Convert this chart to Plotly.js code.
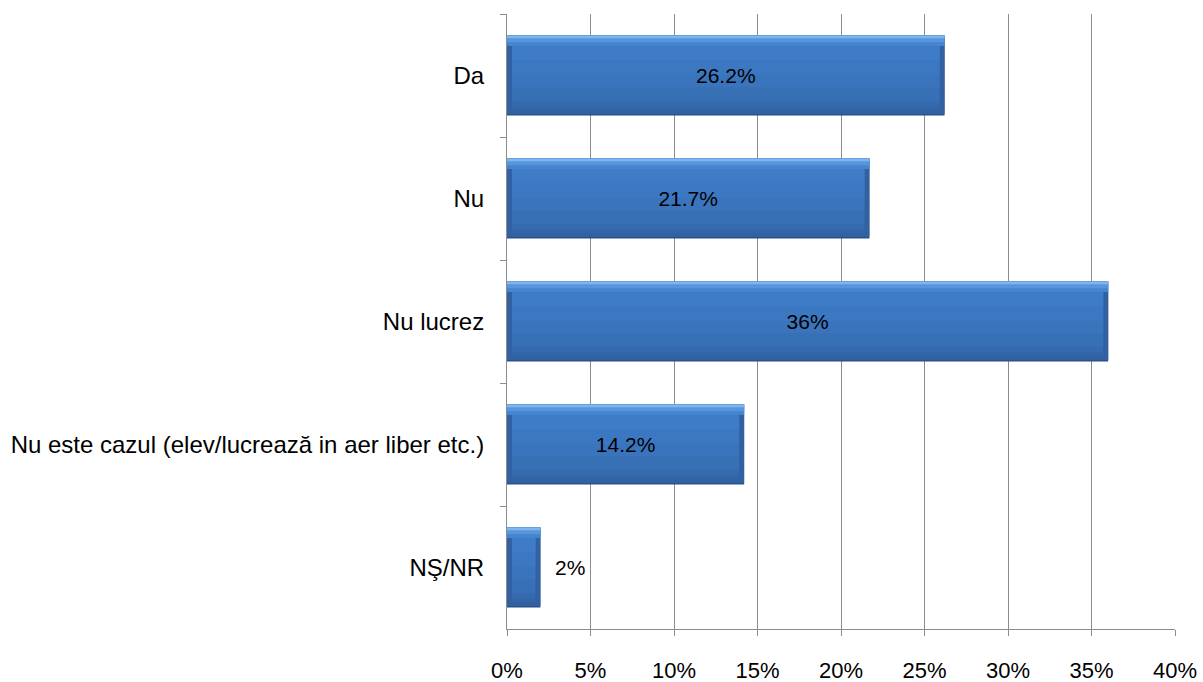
<!DOCTYPE html>
<html><head><meta charset="utf-8">
<script src="https://cdn.plot.ly/plotly-3.0.1.min.js"></script>
<style>body{margin:0;background:#fff}#c{width:1203px;height:682px}</style>
</head><body><div id="c"></div>
<script>
const categories = ["Da", "Nu", "Nu lucrez", "Nu este cazul (elev/lucrează in aer liber etc.)", "NŞ/NR"];
const values = [26.2, 21.7, 36, 14.2, 2];
const xTicks = [0, 5, 10, 15, 20, 25, 30, 35, 40];

const labels = values.map(v => v < 5 ? "\u00a0\u00a0" + v + "%" : v + "%");
const positions = values.map(v => v < 5 ? "outside" : "inside");
const inset = 0.3;
const innerLen = values.map(v => Math.max(v - 2 * inset, 0));

const W = 0.65, TOP = -0.325;
function layer(color, off, w, inner) {
  return {type: "bar", orientation: "h", y: categories,
    x: inner ? innerLen : values, base: inner ? inset : 0,
    width: w, offset: off, marker: {color: color, line: {width: 0}}, hoverinfo: "skip"};
}
const traces = [
  layer("#2b5189", TOP, W, false),
  layer("#3161a1", TOP, W - 0.012, false),
  layer("#3364a7", TOP, W - 0.04, true),
  layer("#356aae", TOP, W - 0.07, true),
  layer("#3870b6", TOP, W - 0.12, true),
  layer("#3a74bc", TOP, 0.42, true),
  layer("#3c78c2", TOP, 0.32, true),
  layer("#3e7cc8", TOP, 0.2, true),
  layer("#4584cf", TOP, 0.085, false),
  layer("#5796dc", TOP, 0.055, false),
  layer("#80b6ec", TOP, 0.022, false),
  {type: "bar", orientation: "h", y: categories, x: values, width: W, offset: TOP,
   marker: {color: "rgba(0,0,0,0)", line: {width: 0}},
   text: labels, textposition: positions, insidetextanchor: "middle",
   textfont: {family: "Liberation Sans, Arial, sans-serif", size: 21, color: "#000"},
   outsidetextfont: {family: "Liberation Sans, Arial, sans-serif", size: 21, color: "#000"},
   constraintext: "none", cliponaxis: false, hoverinfo: "skip"}
];

const layout = {
  width: 1203, height: 682,
  margin: {l: 507, r: 28, t: 14, b: 53},
  paper_bgcolor: "#fff", plot_bgcolor: "#fff",
  showlegend: false, barmode: "overlay",
  font: {family: "Liberation Sans, Arial, sans-serif", size: 24, color: "#000"},
  xaxis: {range: [0, 40], tickmode: "array", tickvals: xTicks, ticktext: xTicks.map(t => t + "%"),
          showgrid: true, gridcolor: "#8c8c8c", gridwidth: 1,
          ticks: "outside", ticklen: 6, tickcolor: "#8c8c8c",
          ticklabelstandoff: 16, zeroline: false, automargin: false,
          showline: true, linecolor: "#8c8c8c", linewidth: 1,
          tickfont: {family: "Liberation Sans, Arial, sans-serif", size: 22, color: "#000"}},
  yaxis: {categoryorder: "array", categoryarray: categories, autorange: "reversed",
          ticks: "outside", ticklen: 6, tickcolor: "#8c8c8c", tickson: "boundaries",
          showline: true, linecolor: "#8c8c8c", linewidth: 1, showgrid: false,
          ticklabelstandoff: 17, tickfont: {size: 24}}
};
Plotly.newPlot("c", traces, layout, {displayModeBar: false, staticPlot: true});
</script></body></html>
